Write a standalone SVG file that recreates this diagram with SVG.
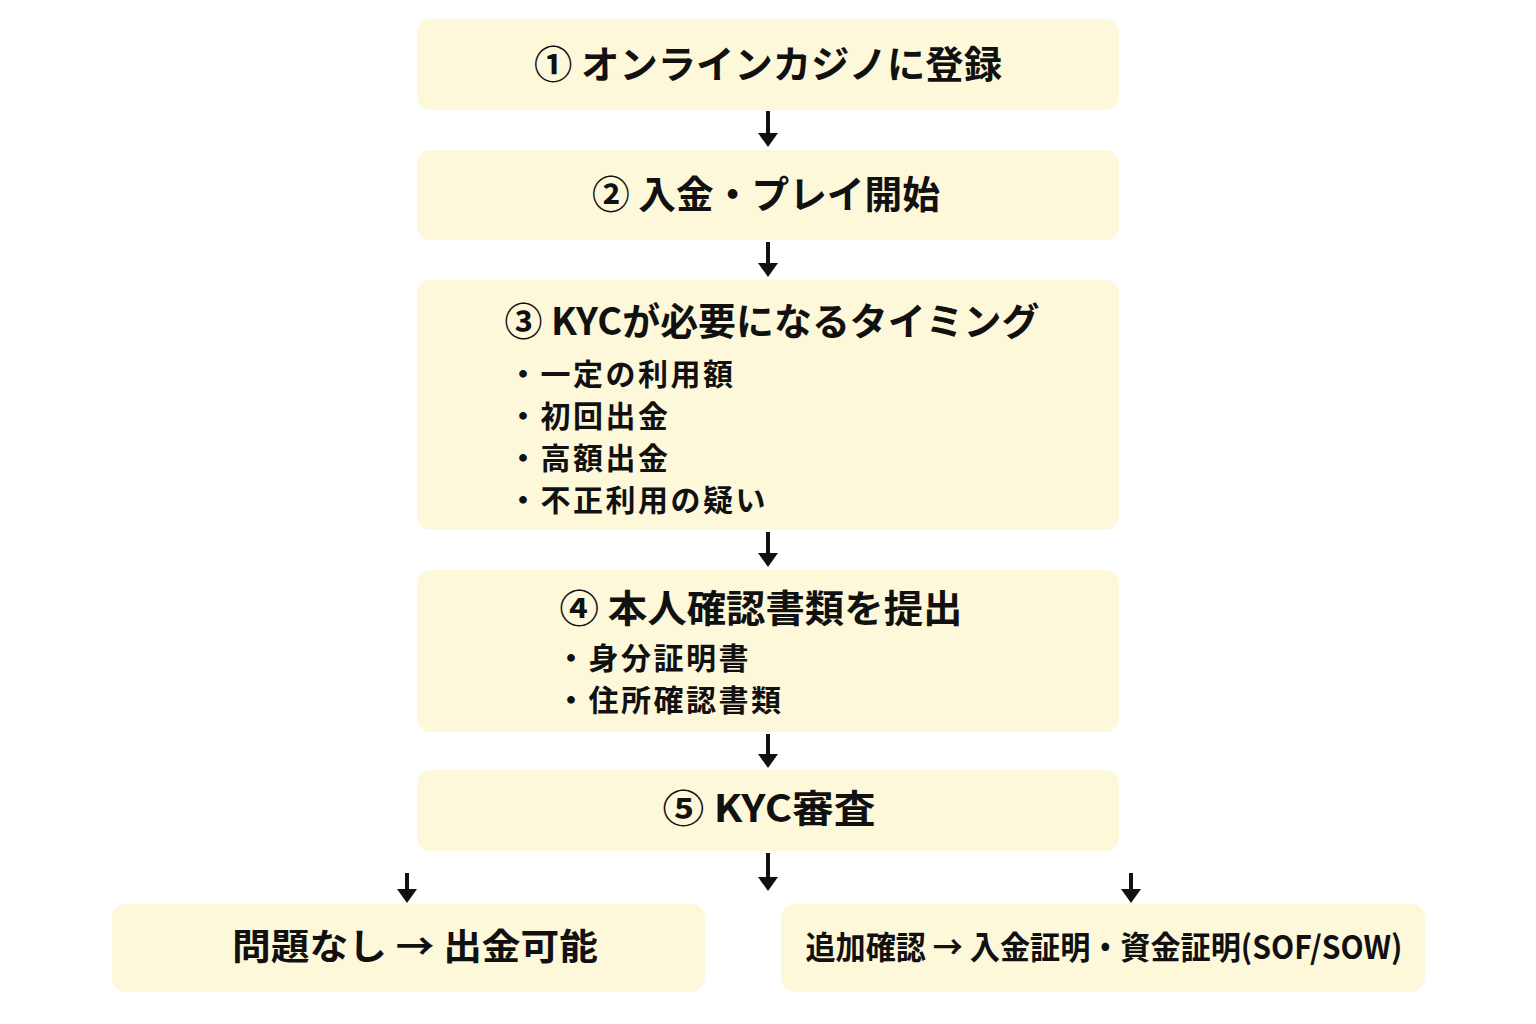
<svg xmlns="http://www.w3.org/2000/svg" width="1536" height="1024" viewBox="0 0 1536 1024">
  <style>
    .box { fill: #FDF8DA; }
    .t { font-family: "Noto Sans CJK JP", "Noto Sans", sans-serif; font-weight: 700; fill: #111111; }
    .title { font-size: 38px; text-anchor: middle; }
    .item { font-size: 30px; letter-spacing: 2.5px; }
    .shaft { stroke: #111111; stroke-width: 4; fill: none; }
    .head { fill: #111111; }
  </style>
  <rect x="0" y="0" width="1536" height="1024" fill="#FFFFFF"/>

  <g id="node1">
    <rect class="box" x="417" y="19" width="702" height="91" rx="14"/>
    <text class="t title" x="768" y="78" textLength="468" lengthAdjust="spacingAndGlyphs">① オンラインカジノに登録</text>
  </g>

  <g id="node2">
    <rect class="box" x="417" y="150" width="702" height="90" rx="14"/>
    <text class="t title" x="766" y="208" textLength="348" lengthAdjust="spacingAndGlyphs">② 入金・プレイ開始</text>
  </g>

  <g id="node3">
    <rect class="box" x="417" y="280" width="702" height="250" rx="14"/>
    <text class="t title" x="772" y="335" textLength="535" lengthAdjust="spacingAndGlyphs">③ KYCが必要になるタイミング</text>
    <text class="t item" x="508" y="385">・一定の利用額</text>
    <text class="t item" x="508" y="427">・初回出金</text>
    <text class="t item" x="508" y="469">・高額出金</text>
    <text class="t item" x="508" y="511">・不正利用の疑い</text>
  </g>

  <g id="node4">
    <rect class="box" x="417" y="570" width="702" height="162" rx="14"/>
    <text class="t title" x="761" y="622" textLength="403" lengthAdjust="spacingAndGlyphs">④ 本人確認書類を提出</text>
    <text class="t item" x="556" y="669">・身分証明書</text>
    <text class="t item" x="556" y="711">・住所確認書類</text>
  </g>

  <g id="node5">
    <rect class="box" x="417" y="770" width="702" height="81" rx="14"/>
    <text class="t title" x="769" y="822" textLength="213" lengthAdjust="spacingAndGlyphs">⑤ KYC審査</text>
  </g>

  <g id="node6">
    <rect class="box" x="112" y="904" width="593" height="88" rx="14"/>
    <text class="t" x="415" y="960" font-size="36" text-anchor="middle" textLength="366" lengthAdjust="spacingAndGlyphs">問題なし → 出金可能</text>
  </g>

  <g id="node7">
    <rect class="box" x="781" y="904" width="644" height="88" rx="14"/>
    <text class="t" x="1104" y="959" font-size="32" text-anchor="middle" textLength="597" lengthAdjust="spacingAndGlyphs">追加確認 → 入金証明・資金証明(SOF/SOW)</text>
  </g>

  <g id="connectors">
    <line class="shaft" x1="768" y1="111" x2="768" y2="134"/>
    <polygon class="head" points="758,133 778,133 768,147"/>
    <line class="shaft" x1="768" y1="242" x2="768" y2="264"/>
    <polygon class="head" points="758,263 778,263 768,277"/>
    <line class="shaft" x1="768" y1="532" x2="768" y2="554"/>
    <polygon class="head" points="758,553 778,553 768,567"/>
    <line class="shaft" x1="768" y1="734" x2="768" y2="755"/>
    <polygon class="head" points="758,754 778,754 768,768"/>
    <line class="shaft" x1="768" y1="853" x2="768" y2="878"/>
    <polygon class="head" points="758,877 778,877 768,891"/>
    <line class="shaft" x1="407" y1="873" x2="407" y2="890"/>
    <polygon class="head" points="397,889 417,889 407,903"/>
    <line class="shaft" x1="1131" y1="873" x2="1131" y2="890"/>
    <polygon class="head" points="1121,889 1141,889 1131,903"/>
  </g>
</svg>
